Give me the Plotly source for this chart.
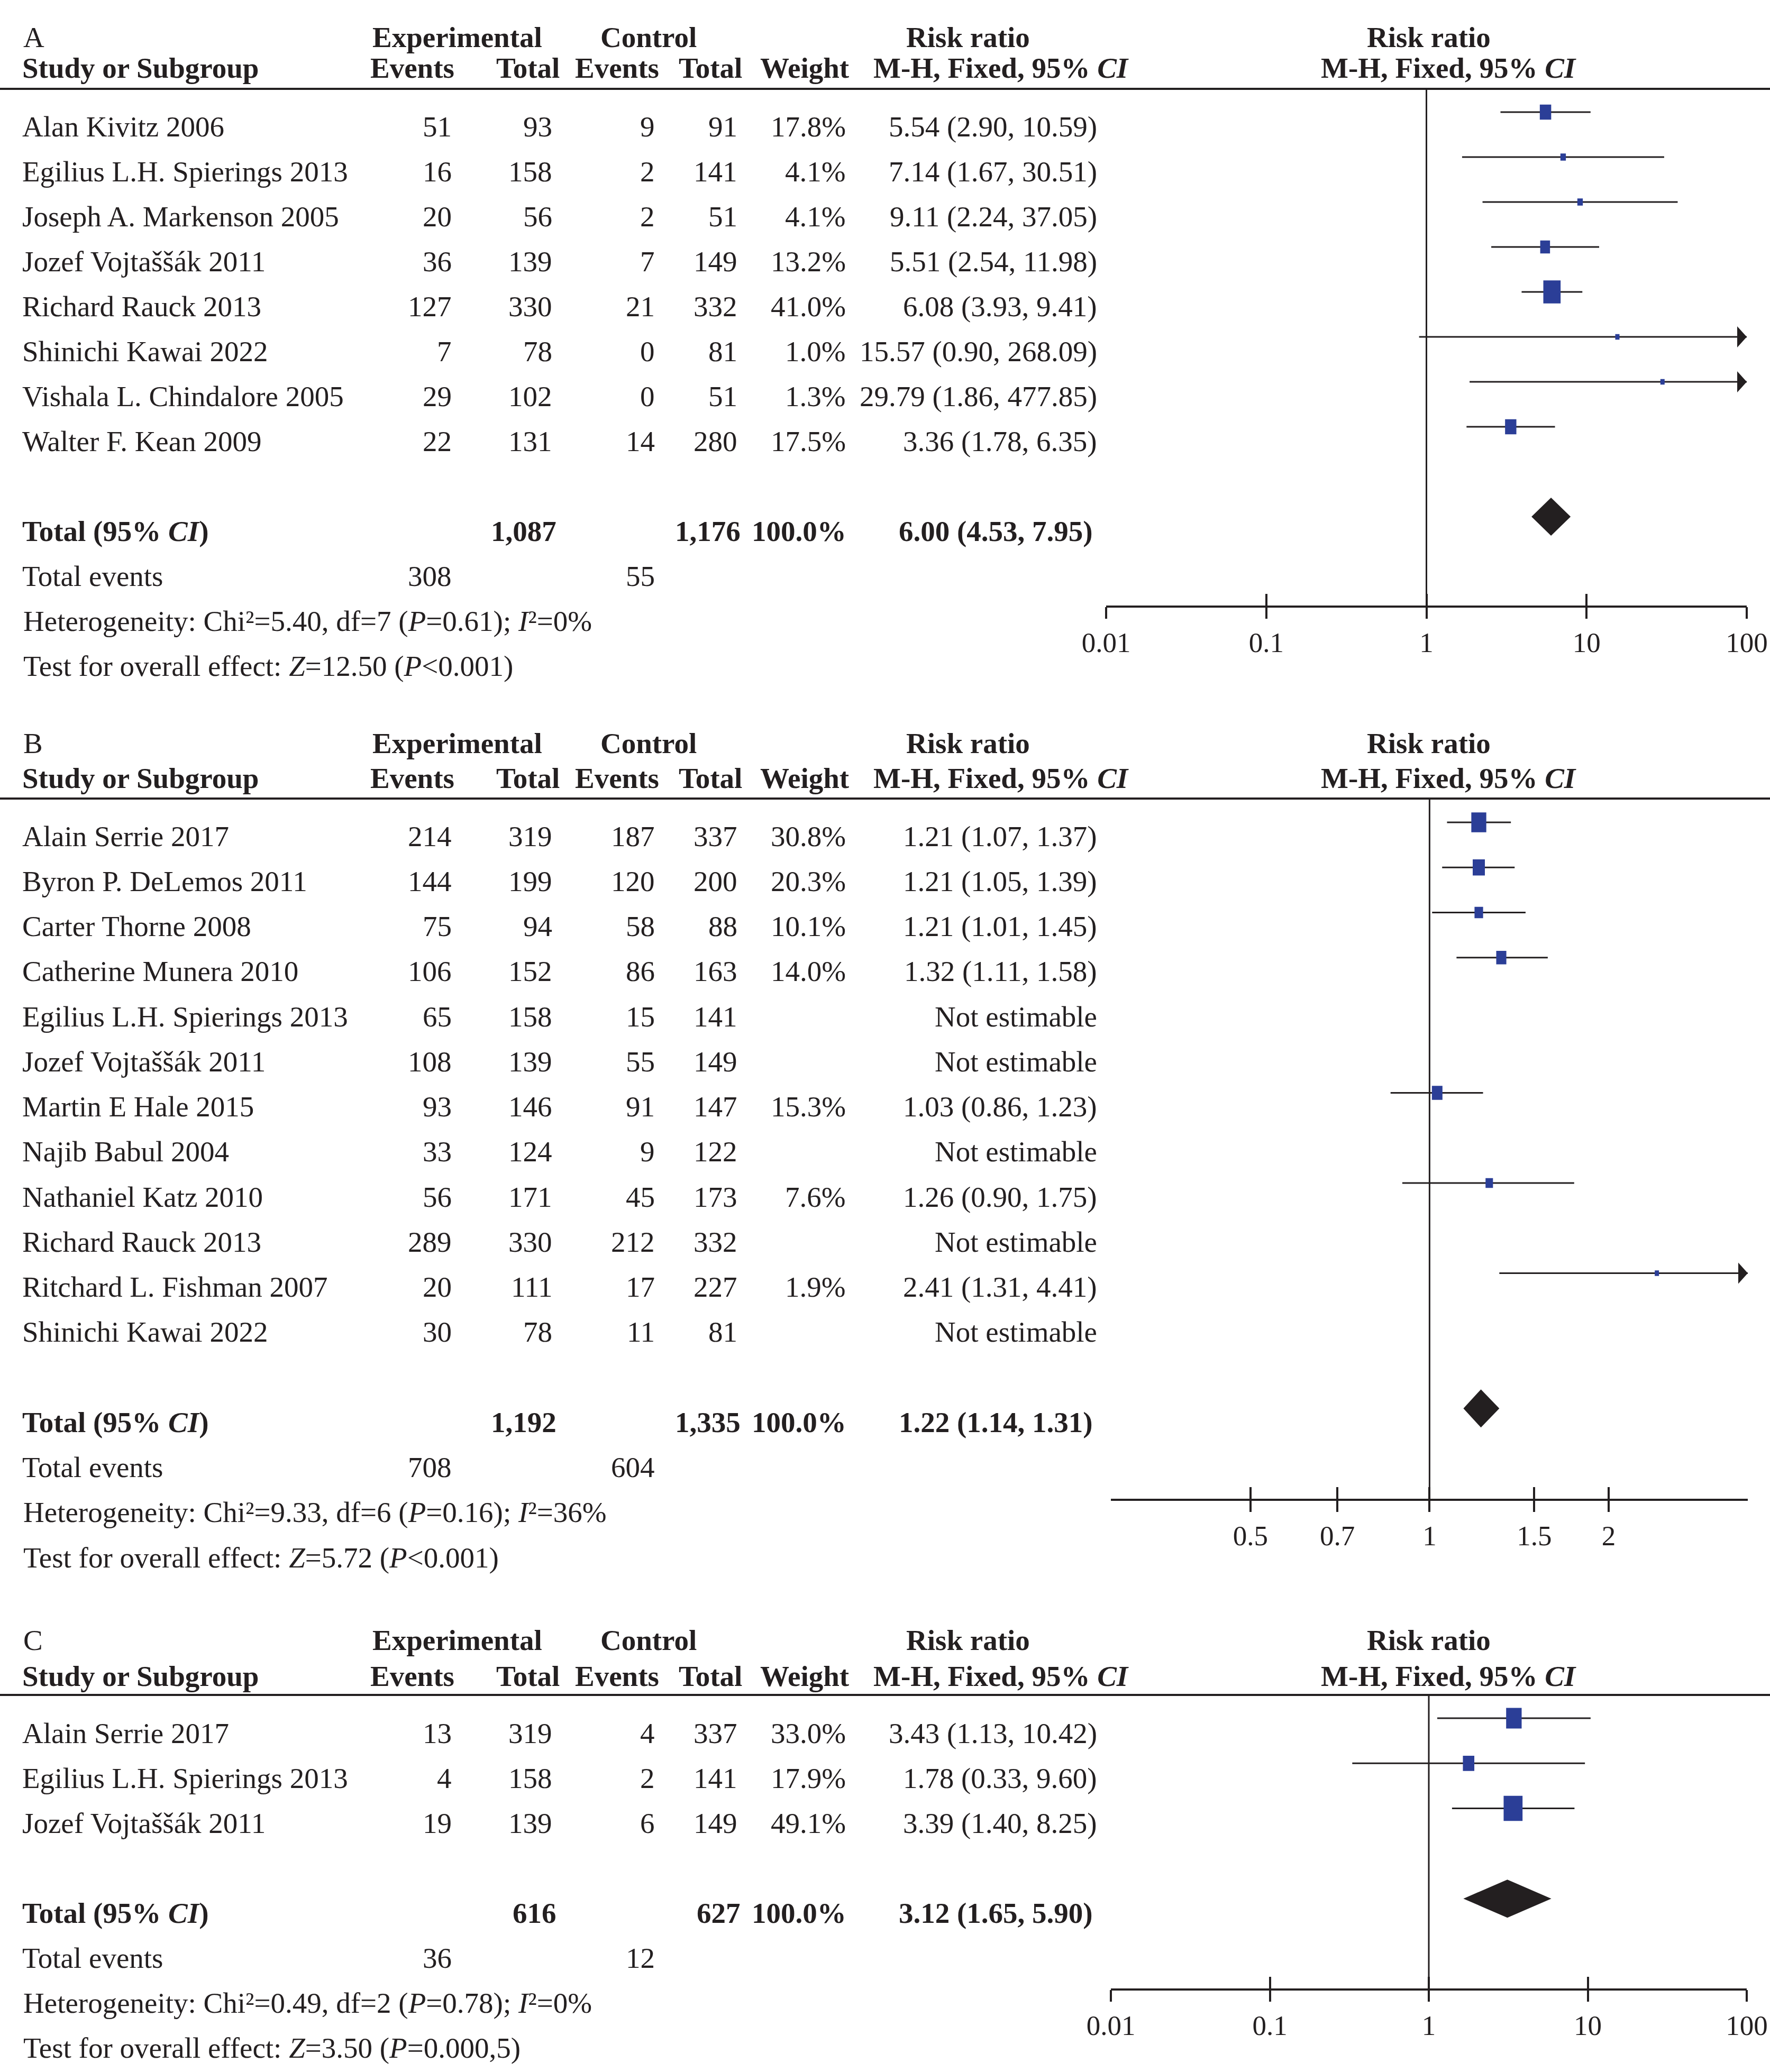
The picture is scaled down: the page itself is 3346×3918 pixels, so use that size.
import plotly.graph_objects as go

W, H = 3346, 3918
FONT = "Liberation Serif"
INK = "#231f20"
BLUE = "#2b3e97"
FS = 55
TICK_FS = 53

# ---------------- Panel A data ----------------
a_studies = ["Alan Kivitz 2006", "Egilius L.H. Spierings 2013", "Joseph A. Markenson 2005",
             "Jozef Vojtaššák 2011", "Richard Rauck 2013", "Shinichi Kawai 2022",
             "Vishala L. Chindalore 2005", "Walter F. Kean 2009"]
a_exp_events = [51, 16, 20, 36, 127, 7, 29, 22]
a_exp_total = [93, 158, 56, 139, 330, 78, 102, 131]
a_ctl_events = [9, 2, 2, 7, 21, 0, 0, 14]
a_ctl_total = [91, 141, 51, 149, 332, 81, 51, 280]
a_weight = [17.8, 4.1, 4.1, 13.2, 41.0, 1.0, 1.3, 17.5]
a_rr = [5.54, 7.14, 9.11, 5.51, 6.08, 15.57, 29.79, 3.36]
a_rr_low = [2.90, 1.67, 2.24, 2.54, 3.93, 0.90, 1.86, 1.78]
a_rr_high = [10.59, 30.51, 37.05, 11.98, 9.41, 268.09, 477.85, 6.35]
a_pooled = [6.00, 4.53, 7.95]
a_totals = [1087, 1176]
a_total_events = [308, 55]
a_heterogeneity = "Heterogeneity: Chi²=5.40, df=7 (<i>P</i>=0.61); <i>I</i>²=0%"
a_overall = "Test for overall effect: <i>Z</i>=12.50 (<i>P</i>&lt;0.001)"
a_ticks = [0.01, 0.1, 1, 10, 100]
a_tick_labels = ["0.01", "0.1", "1", "10", "100"]

# ---------------- Panel B data ----------------
b_studies = ["Alain Serrie 2017", "Byron P. DeLemos 2011", "Carter Thorne 2008",
             "Catherine Munera 2010", "Egilius L.H. Spierings 2013", "Jozef Vojtaššák 2011",
             "Martin E Hale 2015", "Najib Babul 2004", "Nathaniel Katz 2010",
             "Richard Rauck 2013", "Ritchard L. Fishman 2007", "Shinichi Kawai 2022"]
b_exp_events = [214, 144, 75, 106, 65, 108, 93, 33, 56, 289, 20, 30]
b_exp_total = [319, 199, 94, 152, 158, 139, 146, 124, 171, 330, 111, 78]
b_ctl_events = [187, 120, 58, 86, 15, 55, 91, 9, 45, 212, 17, 11]
b_ctl_total = [337, 200, 88, 163, 141, 149, 147, 122, 173, 332, 227, 81]
b_weight = [30.8, 20.3, 10.1, 14.0, None, None, 15.3, None, 7.6, None, 1.9, None]
b_rr = [1.21, 1.21, 1.21, 1.32, None, None, 1.03, None, 1.26, None, 2.41, None]
b_rr_low = [1.07, 1.05, 1.01, 1.11, None, None, 0.86, None, 0.90, None, 1.31, None]
b_rr_high = [1.37, 1.39, 1.45, 1.58, None, None, 1.23, None, 1.75, None, 4.41, None]
b_pooled = [1.22, 1.14, 1.31]
b_totals = [1192, 1335]
b_total_events = [708, 604]
b_heterogeneity = "Heterogeneity: Chi²=9.33, df=6 (<i>P</i>=0.16); <i>I</i>²=36%"
b_overall = "Test for overall effect: <i>Z</i>=5.72 (<i>P</i>&lt;0.001)"
b_ticks = [0.5, 0.7, 1, 1.5, 2]
b_tick_labels = ["0.5", "0.7", "1", "1.5", "2"]

# ---------------- Panel C data ----------------
c_studies = ["Alain Serrie 2017", "Egilius L.H. Spierings 2013", "Jozef Vojtaššák 2011"]
c_exp_events = [13, 4, 19]
c_exp_total = [319, 158, 139]
c_ctl_events = [4, 2, 6]
c_ctl_total = [337, 141, 149]
c_weight = [33.0, 17.9, 49.1]
c_rr = [3.43, 1.78, 3.39]
c_rr_low = [1.13, 0.33, 1.40]
c_rr_high = [10.42, 9.60, 8.25]
c_pooled = [3.12, 1.65, 5.90]
c_totals = [616, 627]
c_total_events = [36, 12]
c_heterogeneity = "Heterogeneity: Chi²=0.49, df=2 (<i>P</i>=0.78); <i>I</i>²=0%"
c_overall = "Test for overall effect: <i>Z</i>=3.50 (<i>P</i>=0.000,5)"
c_ticks = [0.01, 0.1, 1, 10, 100]
c_tick_labels = ["0.01", "0.1", "1", "10", "100"]

panel_labels = ["A", "B", "C"]

panels = [
    dict(studies=a_studies, ee=a_exp_events, et=a_exp_total, ce=a_ctl_events, ct=a_ctl_total,
         w=a_weight, rr=a_rr, lo=a_rr_low, hi=a_rr_high, pooled=a_pooled, totals=a_totals,
         tev=a_total_events, het=a_heterogeneity, test=a_overall, ticks=a_ticks, ticklab=a_tick_labels),
    dict(studies=b_studies, ee=b_exp_events, et=b_exp_total, ce=b_ctl_events, ct=b_ctl_total,
         w=b_weight, rr=b_rr, lo=b_rr_low, hi=b_rr_high, pooled=b_pooled, totals=b_totals,
         tev=b_total_events, het=b_heterogeneity, test=b_overall, ticks=b_ticks, ticklab=b_tick_labels),
    dict(studies=c_studies, ee=c_exp_events, et=c_exp_total, ce=c_ctl_events, ct=c_ctl_total,
         w=c_weight, rr=c_rr, lo=c_rr_low, hi=c_rr_high, pooled=c_pooled, totals=c_totals,
         tev=c_total_events, het=c_heterogeneity, test=c_overall, ticks=c_ticks, ticklab=c_tick_labels),
]

# ---------------- layout geometry (pixels) ----------------
GEOM = [
    dict(top=0, bot=1300, h1=70, h2=128, hline=168, ty0=239, tdy=85.0, my0=212, mdy=85.0,
         axis=1147, x0=2091, x1=3302, lo=-2.0, hi=2.0),
    dict(top=1300, bot=3000, h1=1405, h2=1472, hline=1510, ty0=1581, tdy=85.25, my0=1555, mdy=85.25,
         axis=2836, x0=2100, x1=3304, lo=-0.5355, hi=0.5348),
    dict(top=3000, bot=3918, h1=3101, h2=3169, hline=3205, ty0=3277, tdy=85.0, my0=3249, mdy=85.3,
         axis=3762, x0=2100, x1=3302, lo=-2.0, hi=2.0),
]

COL = dict(name=40, exp_ev=856, exp_tot=1046, ctl_ev=1240, ctl_tot=1396, weight=1601, rr=2076,
           tot_exp=1054, tot_ctl=1402, tot_w=1602, tot_rr=2068)
HEAD1 = [("Experimental", 864), ("Control", 1226), ("Risk ratio", 1830), ("Risk ratio", 2701)]
HEAD2_R = [("Events", 861), ("Total", 1060), ("Events", 1248), ("Total", 1405), ("Weight", 1608)]
HEAD2_C = [("M-H, Fixed, 95% <i>CI</i>", 1892), ("M-H, Fixed, 95% <i>CI</i>", 2738)]


def pxx(p):
    return p / W


def pyy(p):
    return 1 - p / H


annotations = []
shapes = []
layout_axes = {}
fig = go.Figure()


def add_text(text, x, y, xanchor, yref="paper", bold=False, size=FS):
    if bold:
        text = "<b>" + text + "</b>"
    annotations.append(dict(text=text, x=x, y=y, xref="paper", yref=yref, xanchor=xanchor,
                            yanchor="middle", showarrow=False,
                            font=dict(family=FONT, size=size, color=INK)))


for k, (P, G) in enumerate(zip(panels, GEOM)):
    n = k + 1
    xid = "x" if n == 1 else f"x{n}"
    yid = "y" if n == 1 else f"y{n}"
    xname = "xaxis" if n == 1 else f"xaxis{n}"
    yname = "yaxis" if n == 1 else f"yaxis{n}"
    xo, xoname = f"x{n+3}", f"xaxis{n+3}"
    ty, tyname = f"y{n+3}", f"yaxis{n+3}"

    ppd = (G["x1"] - G["x0"]) / (G["hi"] - G["lo"])  # pixels per decade
    xmin, xmax = 10 ** G["lo"], 10 ** G["hi"]

    def dlog(px):
        return 10 ** (px / ppd)

    def drow(px):
        return px / G["mdy"]

    # axes: base axis carries line, upper tick halves and labels; overlay adds lower tick halves
    layout_axes[xname] = dict(type="log", range=[G["lo"], G["hi"]], domain=[pxx(G["x0"]), pxx(G["x1"])],
                              anchor="free", position=pyy(G["axis"]), showline=True, linecolor=INK,
                              linewidth=4, ticks="inside", ticklen=22, tickwidth=4, tickcolor=INK,
                              tickvals=P["ticks"], ticktext=P["ticklab"], ticklabelstandoff=20,
                              tickfont=dict(family=FONT, size=TICK_FS, color=INK),
                              showgrid=False, zeroline=False, fixedrange=True, automargin=False)
    layout_axes[xoname] = dict(type="log", range=[G["lo"], G["hi"]], overlaying=xid, anchor="free",
                               position=pyy(G["axis"]), showline=False, ticks="outside", ticklen=22,
                               tickwidth=4, tickcolor=INK, tickvals=P["ticks"], showticklabels=False,
                               showgrid=False, zeroline=False, fixedrange=True, automargin=False)
    dom = [pyy(G["bot"]), pyy(G["top"])]
    layout_axes[yname] = dict(domain=dom, range=[(G["bot"] - G["my0"]) / G["mdy"], (G["top"] - G["my0"]) / G["mdy"]],
                              visible=False, anchor=xid, fixedrange=True, automargin=False)
    layout_axes[tyname] = dict(domain=dom, range=[(G["bot"] - G["ty0"]) / G["tdy"], (G["top"] - G["ty0"]) / G["tdy"]],
                               visible=False, anchor=xid, overlaying=yid, fixedrange=True, automargin=False)

    fig.add_trace(go.Scatter(x=[1], y=[0], xaxis=xo, yaxis=yid, mode="markers",
                             marker=dict(opacity=0), hoverinfo="skip", showlegend=False))
    fig.add_trace(go.Scatter(x=[1], y=[0], xaxis=xid, yaxis=ty, mode="markers",
                             marker=dict(opacity=0), hoverinfo="skip", showlegend=False))

    # CI lines, arrowheads and weight squares
    lx, ly = [], []
    ax_, ay_ = [], []
    sx, sy = [], []
    for i, (rr, lo, hi, w) in enumerate(zip(P["rr"], P["lo"], P["hi"], P["w"])):
        if rr is None:
            continue
        lx += [max(lo, xmin), min(hi, xmax), None]
        ly += [i, i, None]
        if hi > xmax:
            base = xmax / dlog(18)
            ax_ += [base, xmax, base, base, None]
            ay_ += [i - drow(20), i, i + drow(20), i - drow(20), None]
        if lo < xmin:
            base = xmin * dlog(18)
            ax_ += [base, xmin, base, base, None]
            ay_ += [i - drow(20), i, i + drow(20), i - drow(20), None]
        side = max(5.1 * w ** 0.5, 8)
        hw = dlog(side / 2)
        hh = drow(1.33 * side / 2)
        sx += [rr / hw, rr * hw, rr * hw, rr / hw, rr / hw, None]
        sy += [i - hh, i - hh, i + hh, i + hh, i - hh, None]
    fig.add_trace(go.Scatter(x=lx, y=ly, xaxis=xid, yaxis=yid, mode="lines",
                             line=dict(color=INK, width=3), hoverinfo="skip", showlegend=False))
    if ax_:
        fig.add_trace(go.Scatter(x=ax_, y=ay_, xaxis=xid, yaxis=yid, mode="lines", fill="toself",
                                 fillcolor=INK, line=dict(color=INK, width=0), hoverinfo="skip",
                                 showlegend=False))
    fig.add_trace(go.Scatter(x=sx, y=sy, xaxis=xid, yaxis=yid, mode="lines", fill="toself",
                             fillcolor=BLUE, line=dict(color=BLUE, width=0), hoverinfo="skip",
                             showlegend=False))
    # pooled diamond
    nst = len(P["studies"])
    drw = nst + 1
    est, plo, phi = P["pooled"]
    dh = drow(36)
    fig.add_trace(go.Scatter(x=[plo, est, phi, est, plo], y=[drw, drw - dh, drw, drw + dh, drw],
                             xaxis=xid, yaxis=yid, mode="lines", fill="toself", fillcolor=INK,
                             line=dict(color=INK, width=0), hoverinfo="skip", showlegend=False))

    # line of no effect and header rule
    shapes.append(dict(type="line", xref=xid, x0=1, x1=1, yref="paper", y0=pyy(G["hline"]),
                       y1=pyy(G["axis"]), line=dict(color=INK, width=3)))
    shapes.append(dict(type="line", xref="paper", x0=0, x1=1, yref="paper", y0=pyy(G["hline"]),
                       y1=pyy(G["hline"]), line=dict(color=INK, width=4)))

    # headers
    add_text(panel_labels[k], pxx(42), pyy(G["h1"]), "left")
    for t, xc in HEAD1:
        add_text(t, pxx(xc), pyy(G["h1"]), "center", bold=True)
    add_text("Study or Subgroup", pxx(COL["name"]), pyy(G["h2"]), "left", bold=True)
    for t, xr in HEAD2_R:
        add_text(t, pxx(xr), pyy(G["h2"]), "right", bold=True)
    for t, xc in HEAD2_C:
        add_text(t, pxx(xc), pyy(G["h2"]), "center", bold=True)

    # study rows
    for i, name in enumerate(P["studies"]):
        add_text(name, pxx(COL["name"]), i, "left", yref=ty)
        add_text(str(P["ee"][i]), pxx(COL["exp_ev"]), i, "right", yref=ty)
        add_text(str(P["et"][i]), pxx(COL["exp_tot"]), i, "right", yref=ty)
        add_text(str(P["ce"][i]), pxx(COL["ctl_ev"]), i, "right", yref=ty)
        add_text(str(P["ct"][i]), pxx(COL["ctl_tot"]), i, "right", yref=ty)
        if P["w"][i] is not None:
            add_text(f"{P['w'][i]:.1f}%", pxx(COL["weight"]), i, "right", yref=ty)
            add_text(f"{P['rr'][i]:.2f} ({P['lo'][i]:.2f}, {P['hi'][i]:.2f})", pxx(COL["rr"]), i,
                     "right", yref=ty)
        else:
            add_text("Not estimable", pxx(COL["rr"]), i, "right", yref=ty)

    # totals
    add_text("Total (95% <i>CI</i>)", pxx(COL["name"]), drw, "left", yref=ty, bold=True)
    add_text(f"{P['totals'][0]:,}", pxx(COL["tot_exp"]), drw, "right", yref=ty, bold=True)
    add_text(f"{P['totals'][1]:,}", pxx(COL["tot_ctl"]), drw, "right", yref=ty, bold=True)
    add_text("100.0%", pxx(COL["tot_w"]), drw, "right", yref=ty, bold=True)
    add_text(f"{est:.2f} ({plo:.2f}, {phi:.2f})", pxx(COL["tot_rr"]), drw, "right", yref=ty, bold=True)
    add_text("Total events", pxx(COL["name"]), drw + 1, "left", yref=ty)
    add_text(str(P["tev"][0]), pxx(COL["exp_ev"]), drw + 1, "right", yref=ty)
    add_text(str(P["tev"][1]), pxx(COL["ctl_ev"]), drw + 1, "right", yref=ty)
    add_text(P["het"], pxx(42), drw + 2, "left", yref=ty)
    add_text(P["test"], pxx(42), drw + 3, "left", yref=ty)

fig.update_layout(width=W, height=H, margin=dict(l=0, r=0, t=0, b=0, pad=0, autoexpand=False),
                  paper_bgcolor="white", plot_bgcolor="rgba(0,0,0,0)",
                  showlegend=False, annotations=annotations, shapes=shapes,
                  font=dict(family=FONT, color=INK), **layout_axes)

fig.write_html("out.html", config={"displayModeBar": False, "staticPlot": True},
               post_script="document.body.style.margin='0px';"
                           "document.documentElement.style.overflow='hidden';"
                           "document.body.style.overflow='hidden';")
